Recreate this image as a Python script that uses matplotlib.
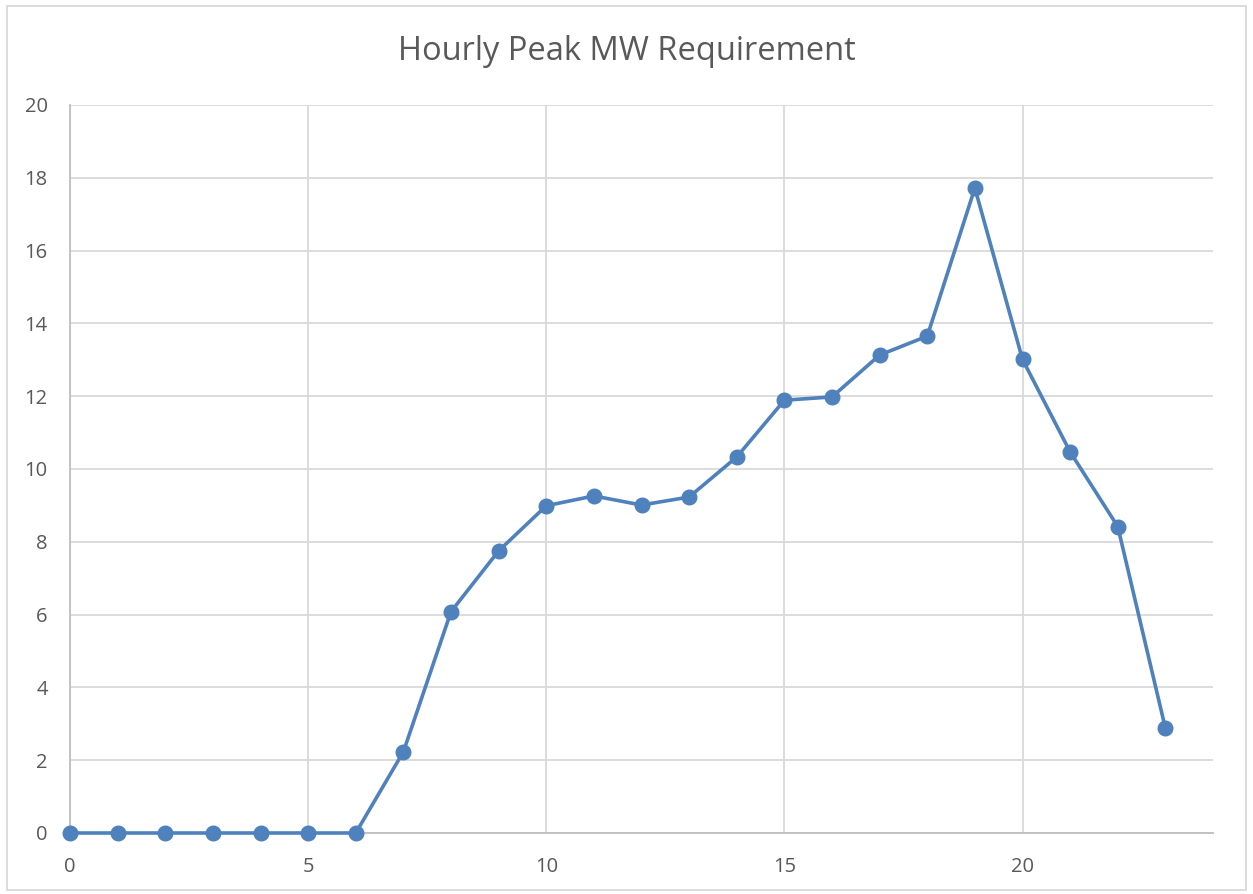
import matplotlib.pyplot as plt
from matplotlib.patches import Rectangle

hours = list(range(24))
peak_mw = [0, 0, 0, 0, 0, 0, 0, 2.23, 6.08, 7.75, 8.99, 9.26, 9.01, 9.23,
           10.33, 11.89, 11.98, 13.13, 13.65, 17.72, 13.01, 10.47, 8.42, 2.88]
x_ticks = [0, 5, 10, 15, 20]
y_ticks = list(range(0, 21, 2))

TEXT = '#595959'
GRID = '#D9D9D9'
BLUE = '#4F81BD'

plt.rcParams['font.family'] = ['Open Sans', 'DejaVu Sans']

fig = plt.figure(figsize=(12.53, 8.94), dpi=100)
ax = fig.add_axes([70 / 1253, 61 / 894, 1143 / 1253, 728 / 894])

ax.plot(hours, peak_mw, color=BLUE, lw=2.6, marker='o', ms=10.5,
        clip_on=False, zorder=3)

ax.set_xlim(0, 24)
ax.set_ylim(0, 20)
ax.set_xticks(x_ticks)
ax.set_yticks(y_ticks)
ax.grid(True, color=GRID, lw=1.3)
ax.set_axisbelow(True)

for side in ['top', 'right']:
    ax.spines[side].set_visible(False)
for side in ['left', 'bottom']:
    ax.spines[side].set_color('#BFBFBF')
    ax.spines[side].set_linewidth(1.3)

ax.tick_params(length=0, colors=TEXT, labelsize=14.5)
ax.tick_params(axis='x', pad=17)
ax.tick_params(axis='y', pad=16)

fig.text(0.5, 1 - 51 / 894, 'Hourly Peak MW Requirement', ha='center',
         va='center', fontsize=23.5, color=TEXT)

# chart border
fig.patches.append(Rectangle((7 / 1253, 4 / 894), 1239 / 1253, 884 / 894,
                             transform=fig.transFigure, fill=False,
                             edgecolor=GRID, lw=1.3))

fig.savefig('out.png', dpi=100)
